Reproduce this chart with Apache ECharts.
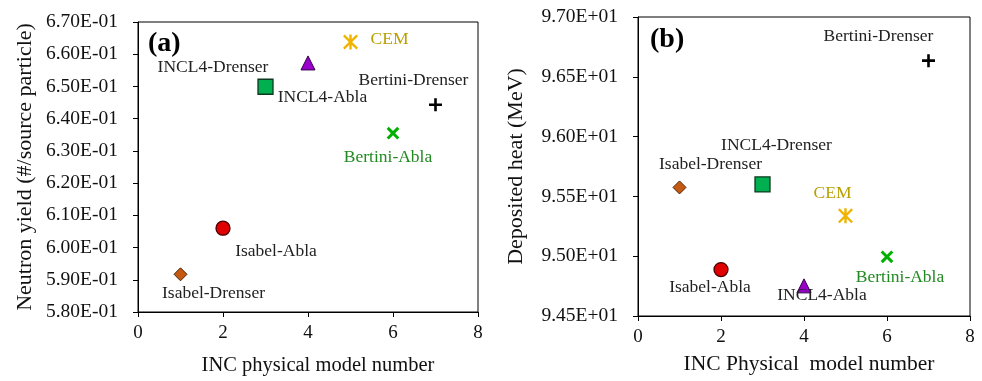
<!DOCTYPE html>
<html>
<head>
<meta charset="utf-8">
<script src="https://cdn.jsdelivr.net/npm/echarts@6/dist/echarts.min.js"></script>
<style>
  html, body { margin: 0; padding: 0; background: #fff; }
  #main { width: 982px; height: 381px; }
</style>
</head>
<body>
<div id="main"></div>
<script>
// model number on the x axis (same for both panels)
const modelNumber = [1, 2, 3, 4, 5, 6, 7];

// panel (a): neutron yield
const namesA = ['Isabel-Drenser', 'Isabel-Abla', 'INCL4-Abla', 'INCL4-Drenser', 'CEM', 'Bertini-Abla', 'Bertini-Drenser'];
const yieldA = [0.5917, 0.6060, 0.6499, 0.6573, 0.6638, 0.6355, 0.6443];

// panel (b): deposited heat
const namesB = ['Isabel-Drenser', 'Isabel-Abla', 'INCL4-Drenser', 'INCL4-Abla', 'CEM', 'Bertini-Abla', 'Bertini-Drenser'];
const heatB = [95.575, 94.888, 95.600, 94.752, 95.338, 94.995, 96.635];

const yTicksA = [0.58, 0.67, 0.01];
const yTicksB = [94.5, 97.0, 0.5];
const xTicks = [0, 8, 2];

const FONT = 'Liberation Serif';

// marker look per model number
const PLUS = 'path://M4,0H6V4H10V6H6V10H4V6H0V4H4Z';
const STAR = 'path://M4.2,0H5.8V10H4.2Z M1.1,0L10,8.9L8.9,10L0,1.1Z M8.9,0L10,1.1L1.1,10L0,8.9Z';
const markers = [
  { symbol: 'diamond', size: 13, color: '#c65911', border: '#4a2508', bw: 1 },
  { symbol: 'circle', size: 14, color: '#e00000', border: '#4a0000', bw: 1.3 },
  { symbol: 'rect', size: 15, color: '#00b050', border: '#0b3a1c', bw: 1.3 },
  { symbol: 'triangle', size: 14, color: '#9900cc', border: '#33004a', bw: 1 },
  { symbol: STAR, size: 15, color: '#f0b400', border: null, bw: 0 },
  { symbol: PLUS, size: 15, color: '#00b000', border: null, bw: 0, rotate: 45 },
  { symbol: PLUS, size: 13, color: '#000000', border: null, bw: 0 }
];

// label offsets from marker centre [dx, dy] and colour
const labelsA = [
  { off: [33, 19], color: '#222' },
  { off: [53, 23], color: '#222' },
  { off: [57, 11], color: '#222' },
  { off: [-95, 4], color: '#222' },
  { off: [39, -3], color: '#b8a000' },
  { off: [-5, 24], color: '#218a21' },
  { off: [-22, -24], color: '#222' }
];
const labelsB = [
  { off: [31, -23], color: '#222' },
  { off: [-11, 18], color: '#222' },
  { off: [14, -39], color: '#222' },
  { off: [18, 10], color: '#222' },
  { off: [-13, -22], color: '#b8a000' },
  { off: [13, 21], color: '#218a21' },
  { off: [-50, -24], color: '#222' }
];

function makeSeries(idx, names, values, labels) {
  return modelNumber.map(function (x, i) {
    const m = markers[i];
    return {
      type: 'scatter',
      xAxisIndex: idx,
      yAxisIndex: idx,
      name: names[i],
      symbol: m.symbol,
      symbolSize: m.size,
      symbolRotate: m.rotate || 0,
      itemStyle: {
        color: m.color,
        borderColor: m.border || m.color,
        borderWidth: m.bw,
        opacity: 1
      },
      label: {
        show: true,
        position: 'inside',
        offset: labels[i].off,
        formatter: names[i],
        color: labels[i].color,
        fontFamily: FONT,
        fontSize: 17.5
      },
      data: [[x, values[i]]]
    };
  });
}

function yAxis(idx, ticks, name, gap, fmt) {
  return {
    type: 'value',
    gridIndex: idx,
    min: ticks[0], max: ticks[1], interval: ticks[2],
    name: name,
    nameLocation: 'middle',
    nameGap: gap,
    nameTextStyle: { fontFamily: FONT, fontSize: 22, color: '#111' },
    axisLine: { show: true, lineStyle: { color: '#000', width: 1 } },
    axisTick: { show: true, length: 5, lineStyle: { color: '#000' } },
    axisLabel: { formatter: fmt, fontFamily: FONT, fontSize: 19.5, color: '#111', margin: 20 },
    splitLine: { show: false }
  };
}

function xAxis(idx, name, size, gap, shift) {
  return {
    type: 'value',
    gridIndex: idx,
    min: xTicks[0], max: xTicks[1], interval: xTicks[2],
    name: name,
    nameLocation: 'middle',
    nameGap: gap,
    nameTextStyle: { fontFamily: FONT, fontSize: size, color: '#111', padding: [0, 0, 0, shift] },
    axisLine: { show: true, lineStyle: { color: '#000', width: 1 } },
    axisTick: { show: true, length: 5, lineStyle: { color: '#000' } },
    axisLabel: { fontFamily: FONT, fontSize: 19, color: '#111', margin: 12 },
    splitLine: { show: false }
  };
}

const chart = echarts.init(document.getElementById('main'), null, { renderer: 'canvas' });

const option = {
  backgroundColor: '#fff',
  animation: false,
  title: [
    { text: '(a)', left: 143, top: 25, textStyle: { fontFamily: FONT, fontSize: 28, fontWeight: 'bold', color: '#000' } },
    { text: '(b)', left: 645, top: 21, textStyle: { fontFamily: FONT, fontSize: 28, fontWeight: 'bold', color: '#000' } }
  ],
  grid: [
    { left: 138, right: 504, top: 22, bottom: 68, show: true, borderColor: '#000', borderWidth: 1 },
    { left: 638, right: 12, top: 17, bottom: 65, show: true, borderColor: '#000', borderWidth: 1 }
  ],
  xAxis: [
    xAxis(0, 'INC physical model number', 20.5, 43, 20),
    xAxis(1, 'INC Physical  model number', 21.5, 37, 10)
  ],
  yAxis: [
    yAxis(0, yTicksA, 'Neutron yield (#/source particle)', 102, function (v) {
      return (v * 10).toFixed(2) + 'E-01';
    }),
    yAxis(1, yTicksB, 'Deposited heat (MeV)', 111, function (v) {
      return (v / 10).toFixed(2) + 'E+01';
    })
  ],
  series: makeSeries(0, namesA, yieldA, labelsA).concat(makeSeries(1, namesB, heatB, labelsB))
};

chart.setOption(option);
</script>
</body>
</html>
